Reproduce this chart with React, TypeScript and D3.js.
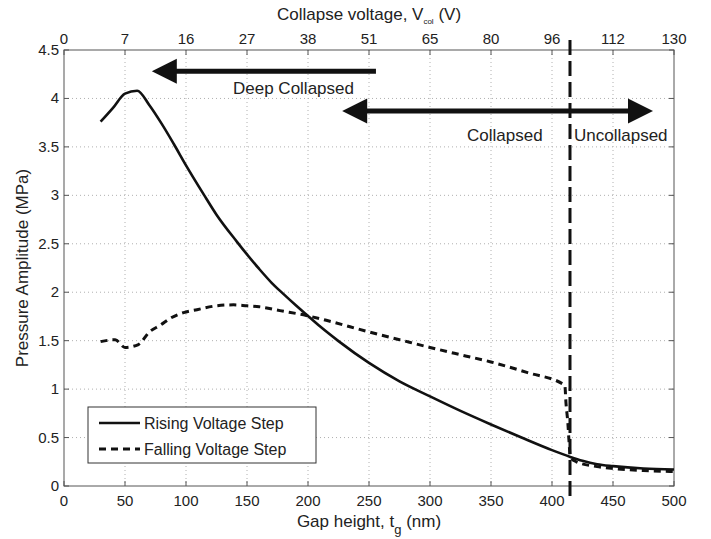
import React from "react";
import * as d3 from "d3";

const gapTicks = [0, 50, 100, 150, 200, 250, 300, 350, 400, 450, 500];
const voltageLabels = ["0", "7", "16", "27", "38", "51", "65", "80", "96", "112", "130"];
const pressureTicks = [0, 0.5, 1, 1.5, 2, 2.5, 3, 3.5, 4, 4.5];

const risingGap = [30, 40, 50, 60, 70, 80, 90, 100, 114.5, 125, 141.8, 150, 160, 170, 180, 190, 198.6, 210, 225, 250, 275, 300, 325, 350, 375, 400, 415, 425, 437, 450, 475, 500];
const risingP = [3.76, 3.9, 4.05, 4.08, 3.93, 3.74, 3.53, 3.31, 3.01, 2.8, 2.52, 2.39, 2.24, 2.1, 1.98, 1.865, 1.77, 1.645, 1.495, 1.27, 1.08, 0.925, 0.775, 0.635, 0.5, 0.37, 0.3, 0.26, 0.225, 0.205, 0.18, 0.17];

const fallingGap = [30, 42, 50, 61, 70, 79, 87, 98, 109, 125, 139, 150, 160, 177, 198.6, 215, 250, 275, 300, 330, 350, 380, 410.5, 411.5, 413, 414, 415, 420, 437, 450, 475, 500];
const fallingP = [1.49, 1.51, 1.43, 1.46, 1.59, 1.66, 1.73, 1.79, 1.82, 1.86, 1.87, 1.86, 1.85, 1.81, 1.76, 1.71, 1.59, 1.51, 1.43, 1.34, 1.28, 1.17, 1.04, 0.85, 0.65, 0.45, 0.3, 0.25, 0.2, 0.18, 0.16, 0.15];

const collapseGap = 414.75;
const seriesNames = ["Rising Voltage Step", "Falling Voltage Step"];

const W = 711, H = 539;
const L = 64, R = 674, T = 50, B = 486;
const FONT = "'Liberation Sans', Arial, sans-serif";
const TXT = "#222";

export default function App() {
  const x = d3.scaleLinear().domain([0, 500]).range([L, R]);
  const y = d3.scaleLinear().domain([0, 4.5]).range([B, T]);
  const line = d3.line<[number, number]>().x(d => x(d[0])).y(d => y(d[1])).curve(d3.curveMonotoneX);
  const rising = risingGap.map((g, i) => [g, risingP[i]] as [number, number]);
  const falling = fallingGap.map((g, i) => [g, fallingP[i]] as [number, number]);

  const arrowHead = (tipX: number, tipY: number, dir: number) => {
    const len = 25, half = 12.5;
    return `M${tipX},${tipY} L${tipX - dir * len},${tipY - half} L${tipX - dir * len},${tipY + half} Z`;
  };

  // annotation arrows in data coordinates
  const a1x0 = x(72), a1x1 = x(255.7), a1y = y(4.28);
  const a2x0 = x(228), a2x1 = x(482.8), a2y = y(3.87);

  return (
    <svg width={W} height={H} style={{ position: "absolute", left: 0, top: 0, background: "#fff" }} fontFamily={FONT}>
      {/* grid */}
      {gapTicks.slice(1, -1).map(t => (
        <line key={"gx" + t} x1={x(t)} x2={x(t)} y1={T} y2={B} stroke="#b0b0b0" strokeWidth={1} strokeDasharray="1,3" />
      ))}
      {pressureTicks.slice(1, -1).map(t => (
        <line key={"gy" + t} x1={L} x2={R} y1={y(t)} y2={y(t)} stroke="#b0b0b0" strokeWidth={1} strokeDasharray="1,3" />
      ))}
      {/* box */}
      <rect x={L} y={T} width={R - L} height={B - T} fill="none" stroke="#555" strokeWidth={1} />
      {/* ticks */}
      {gapTicks.map(t => (
        <g key={"tx" + t}>
          <line x1={x(t)} x2={x(t)} y1={B} y2={B - 5} stroke="#555" />
          <line x1={x(t)} x2={x(t)} y1={T} y2={T + 5} stroke="#555" />
        </g>
      ))}
      {pressureTicks.map(t => (
        <g key={"ty" + t}>
          <line x1={L} x2={L + 5} y1={y(t)} y2={y(t)} stroke="#555" />
          <line x1={R} x2={R - 5} y1={y(t)} y2={y(t)} stroke="#555" />
        </g>
      ))}
      {/* tick labels */}
      {gapTicks.map(t => (
        <text key={"lx" + t} x={x(t)} y={B + 20} textAnchor="middle" fontSize={15} fill={TXT}>{t}</text>
      ))}
      {gapTicks.map((t, i) => (
        <text key={"lt" + t} x={x(t)} y={T - 6} textAnchor="middle" fontSize={15} fill={TXT}>{voltageLabels[i]}</text>
      ))}
      {pressureTicks.map(t => (
        <text key={"ly" + t} x={L - 5} y={y(t) + 5} textAnchor="end" fontSize={15} fill={TXT}>{t}</text>
      ))}
      {/* axis titles */}
      <text x={(L + R) / 2} y={20} textAnchor="middle" fontSize={17} fill={TXT}>
        Collapse voltage, V<tspan fontSize={8} dy={4}>col</tspan><tspan dy={-4}> (V)</tspan>
      </text>
      <text x={(L + R) / 2} y={527} textAnchor="middle" fontSize={17} fill={TXT}>
        Gap height, t<tspan fontSize={13} dy={7}>g</tspan><tspan dy={-7}> (nm)</tspan>
      </text>
      <text transform={`translate(28,${(T + B) / 2}) rotate(-90)`} textAnchor="middle" fontSize={17} fill={TXT}>Pressure Amplitude (MPa)</text>

      {/* collapse line */}
      <line x1={x(collapseGap)} x2={x(collapseGap)} y1={40} y2={502} stroke="#111" strokeWidth={3} strokeDasharray="15,6" />

      {/* series */}
      <path d={line(rising) || ""} fill="none" stroke="#111" strokeWidth={2.6} strokeLinejoin="round" />
      <path d={line(falling) || ""} fill="none" stroke="#111" strokeWidth={3} strokeDasharray="7,5" />

      {/* annotations */}
      <line x1={a1x0 + 20} x2={a1x1} y1={a1y} y2={a1y} stroke="#111" strokeWidth={5} />
      <path d={arrowHead(a1x0, a1y, -1)} fill="#111" />
      <text x={233} y={a1y + 23} fontSize={17} fill={TXT}>Deep Collapsed</text>

      <line x1={a2x0 + 20} x2={a2x1 - 20} y1={a2y} y2={a2y} stroke="#111" strokeWidth={5} />
      <path d={arrowHead(a2x0, a2y, -1)} fill="#111" />
      <path d={arrowHead(a2x1, a2y, 1)} fill="#111" />
      <text x={467} y={a2y + 30} fontSize={17} fill={TXT}>Collapsed</text>
      <text x={574} y={a2y + 30} fontSize={17} fill={TXT}>Uncollapsed</text>

      {/* legend */}
      <rect x={88} y={407} width={228} height={56} fill="#fff" stroke="#333" strokeWidth={1} />
      <line x1={99} x2={140} y1={423} y2={423} stroke="#111" strokeWidth={2.6} />
      <line x1={99} x2={140} y1={449} y2={449} stroke="#111" strokeWidth={3} strokeDasharray="7,5" />
      <text x={144} y={429} fontSize={16} fill={TXT}>{seriesNames[0]}</text>
      <text x={144} y={455} fontSize={16} fill={TXT}>{seriesNames[1]}</text>
    </svg>
  );
}
